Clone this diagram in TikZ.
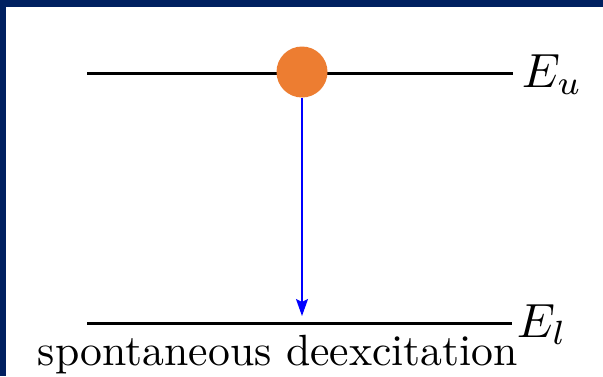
\documentclass[tikz,border=0pt]{standalone}
\usetikzlibrary{arrows.meta}
\definecolor{navy}{HTML}{002060}
\definecolor{dotorange}{HTML}{ED7D31}
\begin{document}
\begin{tikzpicture}[x=1pt,y=-1pt,
  level/.style={line width=3pt,black},
  lbl/.style={inner sep=0pt,scale=4.37,transform shape},
  elbl/.style={inner sep=0pt,scale=4.8,transform shape},
  decay/.style={blue,line width=1.6pt,-{Stealth[length=17pt,width=12pt,inset=3pt]}}]
\useasboundingbox (0,0) rectangle (603,376);
\fill[white] (0,0) rectangle (603,376);
\fill[navy] (0,0) rectangle (603,7);
\fill[navy] (0,0) rectangle (6,376);
\coordinate (u0) at (87,73);
\coordinate (u1) at (513,73);
\coordinate (l0) at (87,323);
\coordinate (l1) at (512,323);
\draw[level] (u0) -- (u1);
\draw[level] (l0) -- (l1);
\node[circle,fill=dotorange,minimum size=51pt,inner sep=0pt] (atom) at (302,72) {};
\coordinate (tip) at (302,316);
\draw[decay] (atom.south) -- (tip);
\node[elbl,anchor=base west] (Eu) at (521,87) {$E_u$};
\node[elbl,anchor=base west] (El) at (516,337) {$E_l$};
\node[lbl,anchor=base] (cap) at (278,365) {spontaneous deexcitation};
\end{tikzpicture}
\end{document}
